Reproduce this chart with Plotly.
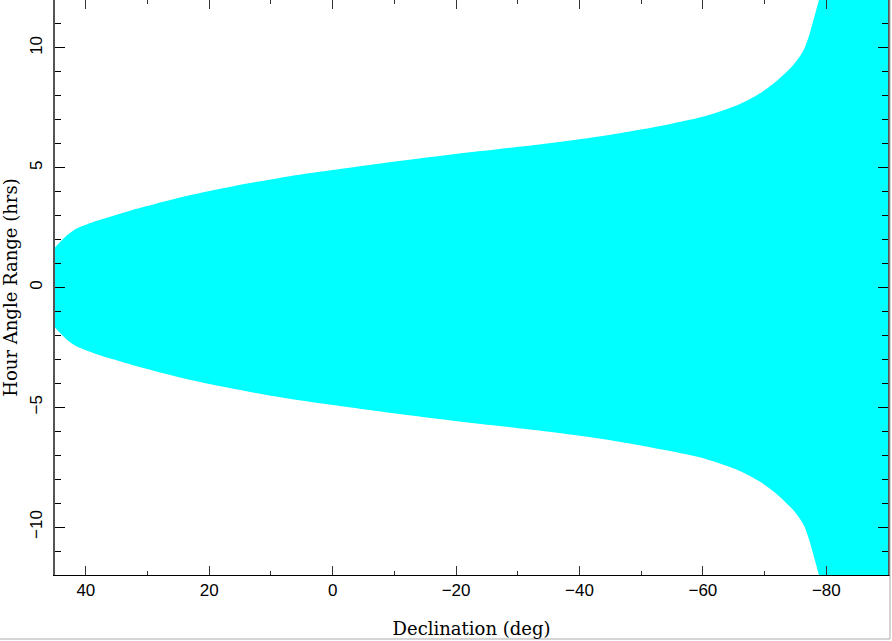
import plotly.graph_objects as go

# Declination (deg) and hour-angle limit (hrs)
declination = [45, 43.4, 41.9, 38.6, 35.4, 32.2, 28.9, 25.7, 22.4, 19.2, 15.9, 12.7,
               5.4, -2.7, -10.8, -18.9, -27, -35.1, -43.2, -49.7, -55.1, -60.6,
               -65.9, -69.2, -71.3, -74.5, -76.2, -77, -77.8, -78.8, -80, -92]
ha_limit = [1.67, 2.10, 2.40, 2.75, 3.01, 3.26, 3.48, 3.69, 3.89, 4.07, 4.24, 4.39,
            4.71, 5.0, 5.28, 5.54, 5.78, 6.02, 6.3, 6.58, 6.85, 7.17,
            7.65, 8.1, 8.48, 9.25, 9.85, 10.35, 11.05, 12.0, 13.1, 13.1]

x_ticks = [40, 20, 0, -20, -40, -60, -80]
y_ticks = [10, 5, 0, -5, -10]

line_style = dict(width=0, color="#00FFFF", shape="spline", smoothing=0.9)

fig = go.Figure()
fig.add_trace(go.Scatter(x=declination, y=[-h for h in ha_limit], mode="lines",
                         line=line_style, hoverinfo="skip", showlegend=False))
fig.add_trace(go.Scatter(x=declination, y=ha_limit, mode="lines", fill="tonexty",
                         fillcolor="#00FFFF", line=line_style,
                         hoverinfo="skip", showlegend=False))

tickfont = dict(family="Liberation Sans, Arial, sans-serif", size=17, color="black")
titlefont = dict(family="DejaVu Serif, serif", size=18, color="black")

fig.update_layout(
    width=892, height=641,
    margin=dict(l=55, r=4, t=0, b=66),
    paper_bgcolor="white", plot_bgcolor="white",
    xaxis=dict(range=[45, -90], tickvals=x_ticks, ticks="inside", ticklen=9,
               tickcolor="#333", tickwidth=1, mirror="ticks", showline=True,
               linecolor="black", linewidth=1, showgrid=False, zeroline=False,
               automargin=False,
               minor=dict(ticks="inside", dtick=10, ticklen=4, tickcolor="#333"),
               tickfont=tickfont,
               title=dict(text="Declination (deg)", font=titlefont, standoff=22)),
    yaxis=dict(range=[-12, 12], tickvals=y_ticks, ticks="inside", ticklen=10,
               tickcolor="black", tickwidth=1, mirror="ticks", showline=True,
               linecolor="#555", linewidth=2, showgrid=False, zeroline=False,
               automargin=False,
               minor=dict(ticks="inside", dtick=1, ticklen=6, tickcolor="black"),
               tickangle=-90, tickfont=tickfont, ticklabelstandoff=4,
               title=dict(text="Hour Angle Range (hrs)", font=titlefont, standoff=8)),
    shapes=[
        dict(type="line", xref="paper", yref="paper", x0=-0.066, x1=1.0024,
             y0=-0.1113, y1=-0.1113, line=dict(color="#aaaaaa", width=1)),
        dict(type="line", xref="paper", yref="paper", x0=1.0024, x1=1.0024,
             y0=-0.1113, y1=1.0, line=dict(color="#aaaaaa", width=1)),
    ],
)

fig.write_html("out.html", config={"displayModeBar": False},
               post_script="document.body.style.margin='0';document.body.style.overflow='hidden';")
